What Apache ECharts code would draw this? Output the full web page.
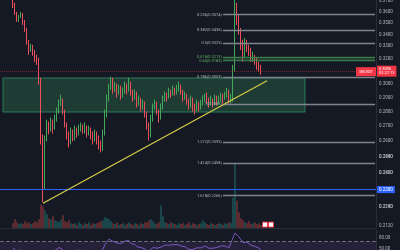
<!DOCTYPE html>
<html>
<head>
<meta charset="utf-8">
<script src="https://cdn.jsdelivr.net/npm/echarts@6/dist/echarts.min.js"></script>
<style>
  html, body { margin: 0; padding: 0; background: #151924; }
  #main { width: 400px; height: 250px; }
</style>
</head>
<body>
<div id="main"></div>
<script>
// candles: [open, close, low, high]
const candles = [
  [0.3740, 0.3663, 0.3635, 0.3790], [0.3663, 0.3590, 0.3572, 0.3682], [0.3590, 0.3527, 0.3510, 0.3599],
  [0.3527, 0.3554, 0.3510, 0.3572], [0.3554, 0.3572, 0.3545, 0.3599], [0.3572, 0.3510, 0.3483, 0.3590],
  [0.3510, 0.3440, 0.3423, 0.3527], [0.3440, 0.3338, 0.3313, 0.3457], [0.3338, 0.3271, 0.3231, 0.3355],
  [0.3271, 0.3296, 0.3255, 0.3321], [0.3296, 0.3255, 0.3223, 0.3313], [0.3255, 0.3207, 0.3174, 0.3271],
  [0.3207, 0.3174, 0.3150, 0.3231], [0.3174, 0.3034, 0.2996, 0.3207], [0.3034, 0.2610, 0.2577, 0.3049],
  [0.2610, 0.2360, 0.2228, 0.2643], [0.2360, 0.2610, 0.2302, 0.2636], [0.2610, 0.2710, 0.2597, 0.2744],
  [0.2710, 0.2676, 0.2643, 0.2730], [0.2676, 0.2730, 0.2663, 0.2758], [0.2730, 0.2690, 0.2649, 0.2744],
  [0.2690, 0.2758, 0.2676, 0.2779], [0.2758, 0.2800, 0.2730, 0.2828], [0.2800, 0.2857, 0.2786, 0.2885],
  [0.2857, 0.2885, 0.2842, 0.2922], [0.2885, 0.2800, 0.2779, 0.2893], [0.2800, 0.2710, 0.2690, 0.2814],
  [0.2710, 0.2643, 0.2610, 0.2724], [0.2643, 0.2597, 0.2558, 0.2663], [0.2597, 0.2663, 0.2577, 0.2690],
  [0.2663, 0.2623, 0.2597, 0.2676], [0.2623, 0.2676, 0.2603, 0.2703], [0.2676, 0.2649, 0.2623, 0.2690],
  [0.2649, 0.2690, 0.2636, 0.2710], [0.2690, 0.2703, 0.2663, 0.2724], [0.2703, 0.2676, 0.2649, 0.2710],
  [0.2676, 0.2690, 0.2649, 0.2724], [0.2690, 0.2649, 0.2623, 0.2703], [0.2649, 0.2676, 0.2636, 0.2703],
  [0.2676, 0.2636, 0.2610, 0.2690], [0.2636, 0.2610, 0.2577, 0.2663], [0.2610, 0.2649, 0.2597, 0.2676],
  [0.2649, 0.2610, 0.2577, 0.2663], [0.2610, 0.2571, 0.2545, 0.2636], [0.2571, 0.2545, 0.2526, 0.2603],
  [0.2545, 0.2643, 0.2535, 0.2676], [0.2643, 0.2779, 0.2636, 0.2814], [0.2779, 0.2885, 0.2758, 0.2922],
  [0.2885, 0.2974, 0.2871, 0.3004], [0.2974, 0.3034, 0.2959, 0.3057], [0.3034, 0.2959, 0.2929, 0.3049],
  [0.2959, 0.2989, 0.2944, 0.3019], [0.2989, 0.2929, 0.2900, 0.3004], [0.2929, 0.2974, 0.2922, 0.2996],
  [0.2974, 0.2915, 0.2885, 0.2989], [0.2915, 0.2944, 0.2900, 0.2974], [0.2944, 0.2989, 0.2929, 0.3019],
  [0.2989, 0.2959, 0.2922, 0.3004], [0.2959, 0.3004, 0.2944, 0.3049], [0.3004, 0.2944, 0.2915, 0.3019],
  [0.2944, 0.2900, 0.2871, 0.2959], [0.2900, 0.2929, 0.2885, 0.2959], [0.2929, 0.2857, 0.2828, 0.2944],
  [0.2857, 0.2885, 0.2842, 0.2915], [0.2885, 0.2828, 0.2800, 0.2900], [0.2828, 0.2857, 0.2814, 0.2885],
  [0.2857, 0.2786, 0.2758, 0.2871], [0.2786, 0.2703, 0.2676, 0.2800], [0.2703, 0.2636, 0.2603, 0.2724],
  [0.2636, 0.2744, 0.2623, 0.2779], [0.2744, 0.2828, 0.2730, 0.2857], [0.2828, 0.2857, 0.2814, 0.2885],
  [0.2857, 0.2800, 0.2779, 0.2871], [0.2800, 0.2758, 0.2724, 0.2814], [0.2758, 0.2828, 0.2744, 0.2857],
  [0.2828, 0.2885, 0.2814, 0.2915], [0.2885, 0.2915, 0.2871, 0.2944], [0.2915, 0.2900, 0.2871, 0.2937],
  [0.2900, 0.2944, 0.2893, 0.2974], [0.2944, 0.2922, 0.2900, 0.2959], [0.2922, 0.2959, 0.2915, 0.2989],
  [0.2959, 0.2937, 0.2915, 0.2974], [0.2937, 0.2974, 0.2922, 0.2996], [0.2974, 0.2989, 0.2944, 0.3019],
  [0.2989, 0.2944, 0.2922, 0.2996], [0.2944, 0.2900, 0.2871, 0.2959], [0.2900, 0.2922, 0.2885, 0.2944],
  [0.2922, 0.2871, 0.2849, 0.2929], [0.2871, 0.2842, 0.2814, 0.2893], [0.2842, 0.2885, 0.2828, 0.2915],
  [0.2885, 0.2828, 0.2800, 0.2900], [0.2828, 0.2814, 0.2779, 0.2857], [0.2814, 0.2857, 0.2800, 0.2885],
  [0.2857, 0.2828, 0.2800, 0.2871], [0.2828, 0.2857, 0.2814, 0.2885], [0.2857, 0.2885, 0.2842, 0.2915],
  [0.2885, 0.2915, 0.2871, 0.2929], [0.2915, 0.2885, 0.2857, 0.2937], [0.2885, 0.2857, 0.2828, 0.2900],
  [0.2857, 0.2885, 0.2842, 0.2915], [0.2885, 0.2857, 0.2828, 0.2893], [0.2857, 0.2900, 0.2842, 0.2922],
  [0.2900, 0.2871, 0.2842, 0.2915], [0.2871, 0.2885, 0.2849, 0.2915], [0.2885, 0.2915, 0.2871, 0.2937],
  [0.2915, 0.2893, 0.2857, 0.2929], [0.2893, 0.2922, 0.2885, 0.2944], [0.2922, 0.2944, 0.2900, 0.2974],
  [0.2944, 0.2885, 0.2857, 0.2959], [0.2885, 0.2900, 0.2857, 0.2929], [0.2900, 0.3111, 0.2871, 0.3150],
  [0.3111, 0.3599, 0.3096, 0.3798], [0.3599, 0.3527, 0.3483, 0.3682], [0.3527, 0.3440, 0.3397, 0.3572],
  [0.3440, 0.3313, 0.3271, 0.3457], [0.3313, 0.3231, 0.3174, 0.3355], [0.3231, 0.3338, 0.3207, 0.3372],
  [0.3338, 0.3288, 0.3255, 0.3355], [0.3288, 0.3255, 0.3223, 0.3313], [0.3255, 0.3207, 0.3174, 0.3288],
  [0.3207, 0.3223, 0.3174, 0.3255], [0.3223, 0.3174, 0.3150, 0.3231], [0.3174, 0.3150, 0.3111, 0.3207],
  [0.3150, 0.3127, 0.3096, 0.3174], [0.3127, 0.3096, 0.3072, 0.3150]
];

const volumes = [
  5, 9, 6, 4, 5, 4, 7, 5, 6, 4, 5, 7, 6, 9,
  24, 22, 18, 14, 10, 9, 12, 8, 7, 6, 9, 13, 7, 6, 8, 5,
  4, 5, 3, 6, 4, 3, 5, 4, 6, 3, 5, 4, 5, 6, 7,
  8, 11, 10, 9, 7,
  5, 4, 6, 3, 4, 5, 3, 4, 6, 4, 3, 5, 4, 3, 5, 4, 6,
  6, 8,
  9, 7, 5, 4, 6, 23, 12, 6, 5, 4, 6, 5, 4, 3, 5,
  4, 5, 3, 4, 6, 3, 5, 4, 3, 4, 5, 8, 6, 4, 3, 5, 4, 3, 4, 5, 4, 3, 5, 4, 6, 5,
  31, 66, 28, 16, 10, 8, 6, 5, 7, 4, 5, 6, 4, 5, 3
];

const rsiValues = [
  52, 48, 44, 46, 48, 42, 38, 34, 30, 33, 30, 28, 27, 24,
  15, 12, 28,
  38, 36, 42, 40, 46, 50, 54, 56,
  48, 42, 38, 36, 44, 41, 46, 44, 47, 48, 46, 47, 44, 47, 43, 41, 45, 42, 39, 37,
  50, 62, 70, 76, 79,
  70, 72, 66, 70, 64, 67, 71, 68, 72, 64, 60, 62, 56, 59, 54, 57, 50,
  44, 40,
  48, 54, 56, 52, 49, 55, 58, 60, 58, 60, 59, 61, 60, 62, 63,
  58, 54, 56, 51, 49, 54, 49, 48, 53, 50, 53, 56, 58, 55, 52, 55, 52, 56, 54, 55, 58, 55, 58, 60, 53, 55,
  80, 92, 88, 82, 74, 67, 72, 68, 65, 60, 61, 57, 55, 52, 48
];

const priceTicks = [0.37, 0.36, 0.35, 0.34, 0.33, 0.32, 0.30, 0.29, 0.28, 0.27, 0.26,
  0.254, 0.248, 0.242, 0.236, 0.224, 0.218, 0.212];
const rsiTicks = [80, 50];

const fibLevels = ['0.236', '0.382', '0.5', '0.618', '0.65', '0.786', '1', '1.272', '1.414', '1.618'];
const fibPrices = [0.3574, 0.3436, 0.3325, 0.3213, 0.3183, 0.3053, 0.2851, 0.2593, 0.2458, 0.2266];

const lastPrice = 0.3096;
const supportPrice = 0.2300;
const zoneTop = 0.3047;
const zoneBottom = 0.2797;
const trendStart = [21, 0.2222];
const trendEnd = [133, 0.3026];

const slotCount = 188;   // bar slots across the pane
const leadPad = 6;       // empty slots before first candle
const fibStart = 110.5;
const fibEnd = 187;

const upColor = '#43a85a';
const downColor = '#ef4f5a';
const textColor = '#b2b5be';

const slots = Array.from({length: slotCount}, (_, i) => String(i));
const candleData = slots.map((s, k) => candles[k - leadPad] || '-');
const volumeData = slots.map((s, k) => {
  const c = candles[k - leadPad];
  if (!c) return '-';
  return {
    value: volumes[k - leadPad],
    itemStyle: {color: c[1] >= c[0] ? 'rgba(38,166,154,0.55)' : 'rgba(239,83,80,0.55)'}
  };
});
const rsiData = slots.map((s, k) => rsiValues[k - leadPad] === undefined ? '-' : rsiValues[k - leadPad]);

const tickLines = priceTicks.map(v => ({
  yAxis: v,
  lineStyle: {color: 'rgba(0,0,0,0)', width: 0},
  label: {show: true, position: 'end', distance: 3, formatter: v.toFixed(4), color: textColor, fontSize: 4.5}
}));

const fibLines = fibLevels.map((lv, j) => {
  const green = lv === '0.618' || lv === '0.65';
  return [
    {
      coord: [fibStart, fibPrices[j]],
      lineStyle: {color: green ? '#3d7a4a' : '#80838c', width: 1.4, type: 'solid'},
      label: {
        show: true, position: 'start', distance: 1,
        formatter: lv + '(' + fibPrices[j].toFixed(4) + ')',
        color: green ? '#5fae5f' : textColor, fontSize: 4
      }
    },
    {coord: [fibEnd, fibPrices[j]]}
  ];
});

const chart = echarts.init(document.getElementById('main'), null, {renderer: 'canvas'});

chart.setOption({
  backgroundColor: '#151924',
  animation: false,
  textStyle: {fontFamily: 'Roboto, sans-serif'},
  grid: [
    {left: 0, right: 24, top: 0, height: 228, outerBoundsMode: 'none'},
    {left: 0, right: 24, top: 150, height: 78, outerBoundsMode: 'none'},
    {left: 0, right: 24, top: 230, height: 38, outerBoundsMode: 'none'}
  ],
  xAxis: [
    {
      type: 'category', gridIndex: 0, data: slots, boundaryGap: true,
      axisLine: {show: true, lineStyle: {color: '#2a2e39', width: 1}},
      axisTick: {show: false}, axisLabel: {show: false}, splitLine: {show: false}
    },
    {
      type: 'category', gridIndex: 1, data: slots, boundaryGap: true,
      axisLine: {show: false}, axisTick: {show: false}, axisLabel: {show: false}
    },
    {
      type: 'category', gridIndex: 2, data: slots, boundaryGap: true,
      axisLine: {show: false}, axisTick: {show: false}, axisLabel: {show: false}
    }
  ],
  yAxis: [
    {
      type: 'log', logBase: 10, gridIndex: 0, position: 'right',
      min: 0.2088, max: 0.3709,
      axisLine: {show: true, lineStyle: {color: '#2a2e39'}},
      axisTick: {show: false}, axisLabel: {show: false}, splitLine: {show: false}
    },
    {
      type: 'value', gridIndex: 1, min: 0, max: 80, show: false
    },
    {
      type: 'value', gridIndex: 2, position: 'right', min: 0, max: 100,
      axisLine: {show: true, lineStyle: {color: '#2a2e39'}},
      axisTick: {show: false}, splitLine: {show: false},
      axisLabel: {
        customValues: rsiTicks, inside: false, margin: 3,
        color: textColor, fontSize: 4.5, formatter: v => v.toFixed(2)
      }
    }
  ],
  series: [
    {
      name: 'price',
      type: 'candlestick',
      xAxisIndex: 0, yAxisIndex: 0,
      data: candleData,
      barWidth: '60%',
      clip: true,
      itemStyle: {
        color: upColor, color0: downColor,
        borderColor: upColor, borderColor0: downColor, borderWidth: 1
      },
      markArea: {
        silent: true,
        data: [
          [
            {coord: [1, zoneTop], itemStyle: {color: 'rgba(52,140,88,0.30)', borderColor: '#2b7d5c', borderWidth: 1}},
            {coord: [152, zoneBottom]}
          ],
          [
            {coord: [fibStart, fibPrices[3]], itemStyle: {color: 'rgba(76,175,80,0.16)'}},
            {coord: [fibEnd, fibPrices[4]]}
          ]
        ]
      },
      markLine: {
        silent: true,
        symbol: ['none', 'none'],
        label: {show: false},
        emphasis: {disabled: true},
        data: [
          ...tickLines,
          ...fibLines,
          {
            yAxis: supportPrice,
            lineStyle: {color: '#2962ff', width: 1.2, type: 'solid'},
            label: {
              show: true, position: 'end', distance: 1, formatter: supportPrice.toFixed(4),
              backgroundColor: '#2962ff', color: '#fff', fontSize: 4.5, padding: [1, 2]
            }
          },
          {
            yAxis: lastPrice,
            lineStyle: {color: 'rgba(242,54,69,0.45)', width: 1, type: 'dotted'},
            label: {
              show: true, position: 'end', distance: 1, formatter: lastPrice.toFixed(4) + '\n02:27:13',
              backgroundColor: '#f23645', color: '#fff', fontSize: 4, lineHeight: 4.5, padding: [1, 2]
            }
          },
          [
            {coord: trendStart, lineStyle: {color: '#d8cc48', width: 1.2, type: 'solid'}},
            {coord: trendEnd}
          ]
        ]
      },
      markPoint: {
        silent: true,
        data: [{
          coord: [187, lastPrice],
          symbol: 'rect', symbolSize: [20, 9], symbolOffset: [-9, 0],
          itemStyle: {color: '#f23645'},
          label: {show: true, position: 'inside', formatter: 'SEIUSDT', color: '#fff', fontSize: 3.5}
        }]
      }
    },
    {
      name: 'volume',
      type: 'bar',
      xAxisIndex: 1, yAxisIndex: 1,
      data: volumeData,
      barWidth: '60%',
      markPoint: {
        silent: true,
        symbol: 'rect', symbolSize: 5,
        itemStyle: {color: '#ffffff', borderColor: '#f23645', borderWidth: 1},
        label: {show: false},
        data: [{coord: [132, 3.5]}, {coord: [134.5, 3.5]}]
      }
    },
    {
      name: 'rsi',
      type: 'line',
      xAxisIndex: 2, yAxisIndex: 2,
      data: rsiData,
      symbol: 'none',
      lineStyle: {color: '#7e57c2', width: 1},
      markArea: {
        silent: true,
        data: [[{yAxis: 70, itemStyle: {color: 'rgba(126,87,194,0.14)'}}, {yAxis: 30}]]
      },
      markLine: {
        silent: true,
        symbol: ['none', 'none'],
        label: {show: false},
        lineStyle: {color: '#6a6d78', type: 'dashed', width: 1},
        data: [{yAxis: 70}]
      }
    }
  ]
});
</script>
</body>
</html>
